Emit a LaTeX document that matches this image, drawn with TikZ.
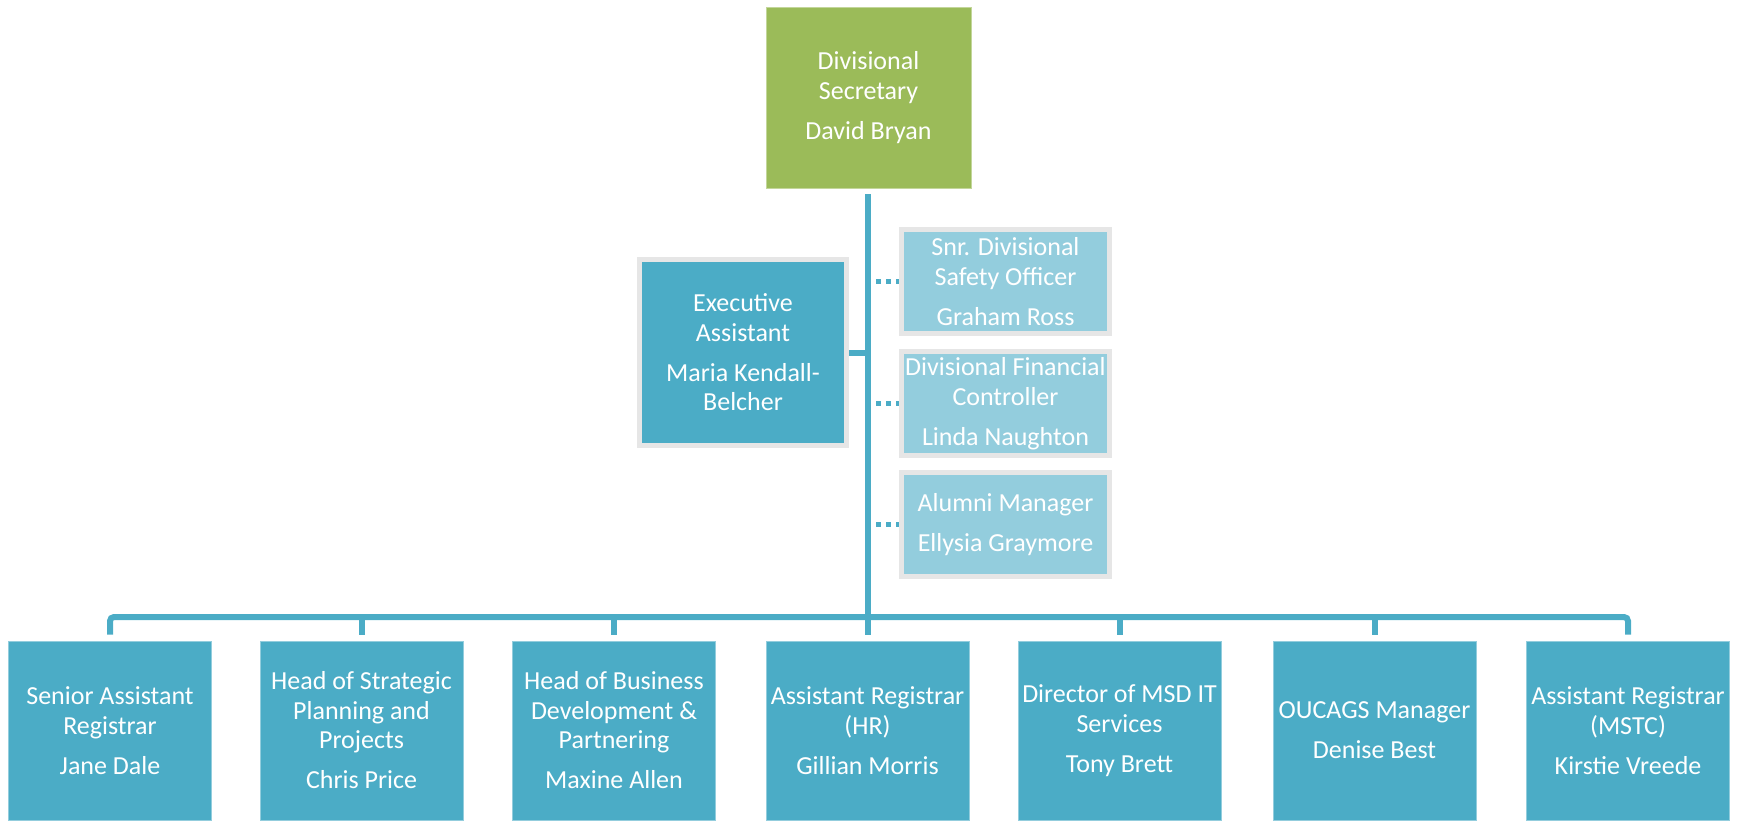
\documentclass[tikz,border=0pt]{standalone}
\usepackage{fontspec}
\setmainfont{Carlito}
\usetikzlibrary{backgrounds,calc}
\definecolor{divgreen}{HTML}{9BBB59}
\definecolor{tealA}{HTML}{4BACC6}
\definecolor{lightB}{HTML}{93CDDD}
\definecolor{ringgray}{HTML}{E6E6E6}
\begin{document}
\begin{tikzpicture}[x=1pt,y=-1pt,
  box/.style={inner sep=0pt, align=center, text=white, font=\fontsize{26pt}{29.5pt}\selectfont},
  topbox/.style={box, fill=divgreen, draw=divgreen!60!white, line width=1pt, minimum width=205pt, minimum height=181pt},
  staffbox/.style={box, fill=tealA, draw=tealA!60!white, line width=1pt, minimum width=203pt, minimum height=179pt},
  assistbox/.style={box, fill=tealA, draw=ringgray, line width=5pt, minimum width=207pt, minimum height=186pt},
  advbox/.style={box, fill=lightB, draw=ringgray, line width=5pt, minimum width=208pt, minimum height=104pt},
  conn/.style={draw=tealA, line width=6pt},
  dotconn/.style={draw=tealA, line width=5pt, dash pattern=on 5pt off 5pt, dash phase=5pt}]
\useasboundingbox (0,0) rectangle (1744,820);

\node[topbox] (top) at (868.5,97.5) {Divisional\\Secretary\\[10.5pt]David Bryan};
\node[assistbox] (exec) at (743,352.5) {Executive\\Assistant\\[10.5pt]Maria Kendall-\\Belcher};
\node[advbox] (safety) at (1005.5,281.5) {Snr. Divisional\\Safety Officer\\[10.5pt]Graham Ross};
\node[advbox] (finance) at (1005.5,403.5) {Divisional Financial\\Controller\\[10.5pt]Linda Naughton};
\node[advbox] (alumni) at (1005.5,524.5) {Alumni Manager\\[10.5pt]Ellysia Graymore};

\node[staffbox] (b1) at (110,730.5) {Senior Assistant\\Registrar\\[10.5pt]Jane Dale};
\node[staffbox] (b2) at (361.5,730.5) {Head of Strategic\\Planning and\\Projects\\[10.5pt]Chris Price};
\node[staffbox] (b3) at (614,730.5) {Head of Business\\Development \&\\Partnering\\[10.5pt]Maxine Allen};
\node[staffbox] (b4) at (867.5,730.5) {Assistant Registrar\\(HR)\\[10.5pt]Gillian Morris};
\node[staffbox] (b5) at (1119.5,730.5) {Director of MSD IT\\Services\\[10.5pt]Tony Brett};
\node[staffbox] (b6) at (1374.5,730.5) {OUCAGS Manager\\[10.5pt]Denise Best};
\node[staffbox] (b7) at (1628,730.5) {Assistant Registrar\\(MSTC)\\[10.5pt]Kirstie Vreede};

\coordinate (busmid) at (868,617);
\coordinate (spinetop) at (868,194);

\begin{scope}[on background layer]
  \draw[conn] (spinetop) -- (busmid);
  \draw[conn, rounded corners=4pt] ([yshift=6pt]b1.north) |- (busmid) -| ([yshift=6pt]b7.north);
  \foreach \b in {b2,b3,b4,b5,b6} \draw[conn] ([yshift=6pt]\b.north) -- (\b.north |- busmid);
  \draw[conn] (exec.east) -- (exec.east -| busmid);
  \foreach \b in {safety,finance,alumni} \draw[dotconn] ($(\b.west -| busmid)+(3,0)$) -- (\b.west);
\end{scope}
\end{tikzpicture}
\end{document}
